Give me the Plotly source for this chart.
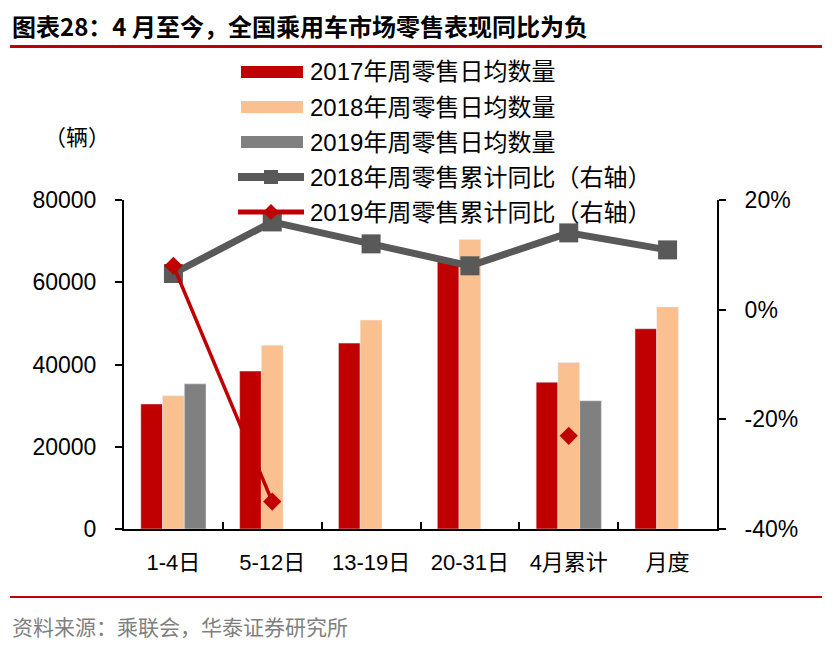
import plotly.graph_objects as go

categories = ["1-4日", "5-12日", "13-19日", "20-31日", "4月累计", "月度"]
sales_2017 = [30400, 38400, 45200, 65000, 35700, 48700]
sales_2018 = [32400, 44700, 50800, 70400, 40500, 54000]
sales_2019 = [35300, None, None, None, 31200, None]
yoy_2018 = [0.066, 0.160, 0.120, 0.080, 0.140, 0.109]
yoy_2019 = [0.080, -0.350, None, None, -0.230, None]

left_ticks = [0, 20000, 40000, 60000, 80000]
left_labels = ["0", "20000", "40000", "60000", "80000"]
right_ticks = [-0.4, -0.2, 0.0, 0.2]
right_labels = ["-40%", "-20%", "0%", "20%"]

names = ["2017年周零售日均数量", "2018年周零售日均数量", "2019年周零售日均数量",
         "2018年周零售累计同比（右轴）", "2019年周零售累计同比（右轴）"]

C_RED = "#C00000"
C_PEACH = "#FAC090"
C_GRAY = "#808080"
C_DARK = "#595959"

W, H = 834, 649
L, R, T, B = 124, 717, 200, 529
PW, PH = R - L, B - T


def px(x):
    return (x - L) / PW


def py(y):
    return (B - y) / PH


FONT = "Liberation Sans, Arial, Noto Sans CJK SC, sans-serif"

fig = go.Figure()
fig.add_trace(go.Bar(x=categories, y=sales_2017, name=names[0], marker_color=C_RED))
fig.add_trace(go.Bar(x=categories, y=sales_2018, name=names[1], marker_color=C_PEACH))
fig.add_trace(go.Bar(x=categories, y=sales_2019, name=names[2], marker_color=C_GRAY))
fig.add_trace(go.Scatter(x=categories, y=yoy_2018, name=names[3], yaxis="y2", mode="lines+markers",
                         line=dict(color=C_DARK, width=7),
                         marker=dict(symbol="square", size=19, color=C_DARK)))
fig.add_trace(go.Scatter(x=categories, y=yoy_2019, name=names[4], yaxis="y2", mode="lines+markers",
                         connectgaps=False,
                         line=dict(color=C_RED, width=3.5),
                         marker=dict(symbol="diamond", size=14, color=C_RED)))

shapes = []
annotations = []

# custom legend
leg_y = [72, 107, 142, 177, 212]
bar_colors = [C_RED, C_PEACH, C_GRAY]
for i in range(3):
    shapes.append(dict(type="rect", xref="paper", yref="paper",
                       x0=px(241), x1=px(303), y0=py(leg_y[i] - 6), y1=py(leg_y[i] + 6),
                       fillcolor=bar_colors[i], line=dict(width=0)))
# 2018 line swatch
shapes.append(dict(type="line", xref="paper", yref="paper", x0=px(238), x1=px(304),
                   y0=py(leg_y[3]), y1=py(leg_y[3]), line=dict(color=C_DARK, width=8)))
shapes.append(dict(type="rect", xref="paper", yref="paper", x0=px(264), x1=px(278),
                   y0=py(leg_y[3] - 7), y1=py(leg_y[3] + 7), fillcolor=C_DARK, line=dict(width=0)))
# 2019 line swatch
shapes.append(dict(type="line", xref="paper", yref="paper", x0=px(238), x1=px(304),
                   y0=py(leg_y[4]), y1=py(leg_y[4]), line=dict(color=C_RED, width=5)))
cx, cy, d = 271, leg_y[4], 8
shapes.append(dict(type="path", xref="paper", yref="paper",
                   path=f"M {px(cx)},{py(cy - d)} L {px(cx + d)},{py(cy)} L {px(cx)},{py(cy + d)} L {px(cx - d)},{py(cy)} Z",
                   fillcolor=C_RED, line=dict(width=0)))
for i, n in enumerate(names):
    annotations.append(dict(text=n, xref="paper", yref="paper", x=px(308), y=py(leg_y[i]),
                            xanchor="left", yanchor="middle", showarrow=False,
                            font=dict(size=24, color="black", family=FONT)))

# title and separators
annotations.append(dict(text="<b>图表28：4 月至今，全国乘用车市场零售表现同比为负</b>", xref="paper", yref="paper",
                        x=px(10), y=py(25), xanchor="left", yanchor="middle", showarrow=False,
                        font=dict(size=24, color="black", family="Noto Sans CJK SC, sans-serif")))
shapes.append(dict(type="line", xref="paper", yref="paper", x0=px(10), x1=px(822),
                   y0=py(46.5), y1=py(46.5), line=dict(color=C_RED, width=3)))
shapes.append(dict(type="line", xref="paper", yref="paper", x0=px(10), x1=px(822),
                   y0=py(597), y1=py(597), line=dict(color=C_RED, width=2)))
annotations.append(dict(text="资料来源：乘联会，华泰证券研究所", xref="paper", yref="paper",
                        x=px(10), y=py(626), xanchor="left", yanchor="middle", showarrow=False,
                        font=dict(size=21, color="#808080", family="Noto Sans CJK SC, sans-serif")))
annotations.append(dict(text="（辆）", xref="paper", yref="paper",
                        x=px(77), y=py(137), xanchor="center", yanchor="middle", showarrow=False,
                        font=dict(size=22, color="black", family=FONT)))

fig.update_layout(
    width=W, height=H,
    margin=dict(l=L, r=W - R, t=T, b=H - B, pad=0),
    paper_bgcolor="white", plot_bgcolor="white",
    barmode="group", bargap=0.34, bargroupgap=0,
    showlegend=False,
    font=dict(family=FONT, size=22, color="black"),
    xaxis=dict(type="category", showline=True, linecolor="black", linewidth=2,
               ticks="inside", tickson="boundaries", ticklen=7, tickwidth=2, tickcolor="black",
               showgrid=False, ticklabelstandoff=13, tickfont=dict(size=22)),
    yaxis=dict(range=[0, 80000], tickvals=left_ticks, ticktext=left_labels, showline=True,
               linecolor="black", linewidth=2,
               ticks="outside", ticklen=7, tickwidth=2, tickcolor="black", showgrid=False,
               zeroline=False, ticklabelstandoff=14, tickfont=dict(size=23)),
    yaxis2=dict(range=[-0.4, 0.2], tickvals=right_ticks, ticktext=right_labels, overlaying="y", side="right",
                showline=True, linecolor="black", linewidth=2, ticks="outside", ticklen=7, tickwidth=2,
                tickcolor="black", showgrid=False, zeroline=False, ticklabelstandoff=14,
                tickfont=dict(size=23)),
    shapes=shapes, annotations=annotations,
)

fig.write_html("out.html")
